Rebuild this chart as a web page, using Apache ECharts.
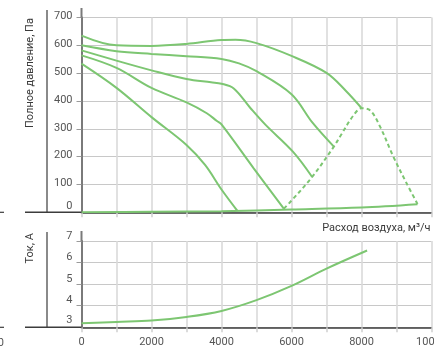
<!DOCTYPE html>
<html>
<head>
<meta charset="utf-8">
<script src="https://cdn.jsdelivr.net/npm/echarts@6/dist/echarts.min.js"></script>
<style>
html,body{margin:0;padding:0;background:#fff;}
#c{width:434px;height:347px;}
</style>
</head>
<body>
<div id="c"></div>
<script>
// ---- data (x: air flow m3/h, y: total pressure Pa / current A) ----
const xTicks = [0, 2000, 4000, 6000, 8000, 10000];
const pressureTicks = [0, 100, 200, 300, 400, 500, 600, 700];
const currentTicks = [3, 4, 5, 6, 7];

const curve1 = [[0,635],[1000,600],[2000,598],[3000,605],[4000,619],[4400,620],[5000,608],[6000,562],[7000,501],[7550,437],[8005,374]];
const curve2 = [[0,600],[1000,579],[2000,569],[3000,561],[4000,551],[4500,535],[5000,507],[6000,424],[6600,322],[7210,236]];
const curve3 = [[0,582],[1000,545],[2000,510],[3000,479],[3700,467],[4000,462],[4350,445],[4830,374],[5260,314],[6040,218],[6590,127]];
const curve4 = [[0,564],[1000,519],[2000,447],[3000,395],[3580,356],[3870,328],[4000,316],[4920,158],[5780,13]];
const curve5 = [[0,534],[1000,447],[2000,342],[3000,242],[3530,170],[4000,82],[4450,6]];
const zeroLine = [[0,0],[2000,2],[4000,4],[6000,10],[8000,17],[9600,29]];
const boundary = [[5780,13],[6000,42],[6590,127],[7210,236],[7400,275],[7780,350],[8005,374],[8250,366],[8530,308],[8910,200],[9290,104],[9600,30]];
const current = [[0,3.19],[1000,3.25],[2000,3.31],[3000,3.48],[4000,3.76],[5000,4.26],[6000,4.92],[7000,5.72],[8160,6.56]];

const green = '#7dc672';
const font = 'Roboto';

// layout
const W = 434, H = 347;
const g1 = {left: 81.5, right: 2.5, top: 17.5, bottom: 134.7};
const g2 = {left: 81.5, right: 2.5, top: 241, bottom: 19.7};
const y0top = H - g1.bottom, y0bot = H - g2.bottom;

function lineSeries(data, dashed) {
  return {
    type: 'line', xAxisIndex: 0, yAxisIndex: 0, data: data,
    showSymbol: false, symbol: 'none', smooth: 0.35,
    lineStyle: {color: green, width: 2, type: dashed ? [4, 3] : 'solid'},
    silent: true, animation: false
  };
}

const xCommon = {
  type: 'value', min: 0, max: 10000, interval: 1000,
  axisLine: {show: true, lineStyle: {color: '#3c3c3c', width: 1.5}},
  axisTick: {show: true, length: 5, lineStyle: {color: '#cfcfcf', width: 1.5}},
  splitLine: {show: true, lineStyle: {color: '#dadada', width: 1.6}}
};

const ln = (x1, y1, x2, y2, c, w) => ({type: 'line', shape: {x1, y1, x2, y2}, style: {stroke: c, lineWidth: w}, silent: true, z: 10});

const chart = echarts.init(document.getElementById('c'), null, {renderer: 'canvas'});
chart.setOption({
  animation: false,
  backgroundColor: '#fff',
  grid: [
    Object.assign({containLabel: false, outerBoundsMode: 'none'}, g1),
    Object.assign({containLabel: false, outerBoundsMode: 'none'}, g2)
  ],
  xAxis: [
    Object.assign({}, xCommon, {gridIndex: 0, axisLabel: {show: false}}),
    Object.assign({}, xCommon, {gridIndex: 1,
      axisLabel: {show: true, margin: 9, color: '#555', fontFamily: font, fontSize: 11, hideOverlap: false,
        formatter: v => xTicks.indexOf(v) >= 0 ? String(v) : ''}})
  ],
  yAxis: [
    {gridIndex: 0, type: 'value', min: pressureTicks[0], max: pressureTicks[pressureTicks.length-1], interval: 100,
      axisLine: {show: true, lineStyle: {color: '#7a7a7a', width: 2}},
      axisTick: {show: true, length: 5, lineStyle: {color: '#9a9a9a', width: 1}},
      splitLine: {show: true, lineStyle: {color: '#c8c8c8', width: 1.2}},
      axisLabel: {margin: 9, color: '#555', fontFamily: font, fontSize: 11,
        formatter: v => v === 0 ? '{z|0}' : '{a|' + v + '}',
        rich: {z: {padding: [0,0,12,0], fontFamily: font, fontSize: 11, color: '#555'},
               a: {padding: [0,0,2,0], fontFamily: font, fontSize: 11, color: '#555'}}}
    },
    {gridIndex: 1, type: 'value', min: currentTicks[0], max: currentTicks[currentTicks.length-1], interval: 1,
      axisLine: {show: true, lineStyle: {color: '#7a7a7a', width: 2}},
      axisTick: {show: true, length: 5, lineStyle: {color: '#9a9a9a', width: 1}},
      splitLine: {show: true, lineStyle: {color: '#c8c8c8', width: 1.2}},
      axisLabel: {margin: 9, color: '#555', fontFamily: font, fontSize: 11,
        formatter: v => v === 3 ? '{b|3}' : '{a|' + v + '}',
        rich: {a: {padding: [0,0,10,0], fontFamily: font, fontSize: 11, color: '#555'},
               b: {padding: [0,0,14,0], fontFamily: font, fontSize: 11, color: '#555'}}}
    }
  ],
  series: [
    lineSeries(curve1), lineSeries(curve2), lineSeries(curve3), lineSeries(curve4), lineSeries(curve5),
    lineSeries(zeroLine), lineSeries(boundary, true),
    {type: 'line', xAxisIndex: 1, yAxisIndex: 1, data: current, showSymbol: false, symbol: 'none', smooth: 0.35,
     lineStyle: {color: green, width: 2}, silent: true}
  ],
  graphic: [
    // axis line extensions
    ln(25, y0top, g1.left, y0top, '#3c3c3c', 1.5),
    ln(0, y0top, 4, y0top, '#3c3c3c', 1.2),
    ln(25, y0bot, g2.left, y0bot, '#3c3c3c', 1.5),
    ln(0, y0bot, 4, y0bot, '#3c3c3c', 1.2),
    ln(47, 10, 47, y0top, '#3c3c3c', 1.2),
    ln(47, 232, 47, y0bot, '#3c3c3c', 1.2),
    ln(g1.left, 8, g1.left, g1.top, '#7a7a7a', 2),
    ln(g2.left, 231, g2.left, g2.top, '#7a7a7a', 2),
    {type: 'text', x: 30, y: 128, rotation: Math.PI / 2, silent: true,
     style: {text: 'Полное давление, Па', fill: '#3a3a3a', font: '11px Roboto', textAlign: 'left', textVerticalAlign: 'middle'}},
    {type: 'text', x: 30, y: 263.5, rotation: Math.PI / 2, silent: true,
     style: {text: 'Ток, А', fill: '#3a3a3a', font: '11px Roboto', textAlign: 'left', textVerticalAlign: 'middle'}},
    {type: 'text', x: 430.5, y: 228.5, silent: true,
     style: {text: 'Расход воздуха, м³/ч', fill: '#3a3a3a', font: '11px Roboto', textAlign: 'right', textVerticalAlign: 'middle'}},
    {type: 'text', x: 4, y: 343, silent: true,
     style: {text: '10000', fill: '#555', font: '11px Roboto', textAlign: 'right', textVerticalAlign: 'middle'}}
  ]
});
</script>
</body>
</html>
